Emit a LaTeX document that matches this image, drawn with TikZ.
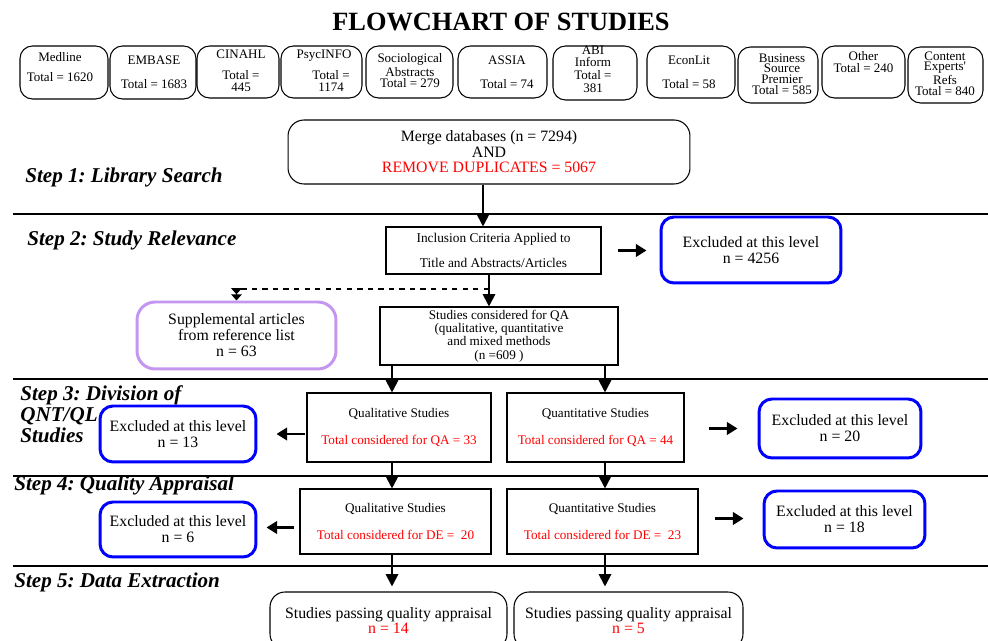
\documentclass[tikz,border=0pt]{standalone}
\usepackage{fontspec}
\setmainfont{Liberation Serif}
\usetikzlibrary{arrows.meta,calc}
\definecolor{supplilac}{RGB}{196,150,240}
\frenchspacing

\tikzset{
  dbbox/.style={draw, line width=0.6pt, rounded corners=0.25cm, inner sep=0},
  dbtext/.style={font=\fontsize{7.4}{#1}\selectfont, align=center, inner sep=0},
  plainbox/.style={draw, line width=0.6pt, inner sep=0, align=center, font=\fontsize{7.5}{7.6}\selectfont},
  stagebox/.style={plainbox, font=\fontsize{7.5}{15.3}\selectfont},
  roundbox/.style={draw, line width=0.6pt, rounded corners=0.3cm, inner sep=0, align=center, font=\fontsize{9}{8.8}\selectfont},
  exclbox/.style={draw=blue, line width=1.7pt, rounded corners=0.26cm, fill=white, inner sep=0, align=center, font=\fontsize{9}{9.1}\selectfont},
  suppbox/.style={draw=supplilac, line width=1.7pt, rounded corners=0.36cm, inner sep=0, align=center, font=\fontsize{9}{9.1}\selectfont},
  steplabel/.style={font=\fontsize{12}{12}\selectfont\bfseries\itshape, anchor=west, align=left, inner sep=0},
  sepline/.style={line width=1.1pt},
  flow/.style={-{Triangle[length=7pt,width=7pt]}, line width=1.1pt},
  sidearrow/.style={-{Triangle[length=6pt,width=7pt]}, line width=1.7pt},
}

\begin{document}
\begin{tikzpicture}[x=0.02cm, y=-0.02cm]
  \useasboundingbox (0,0) rectangle (988,641);

  \node[font=\fontsize{15}{15}\selectfont\bfseries] (title) at (501,22) {FLOWCHART OF STUDIES};

  % databases
  \node[dbbox, minimum width=1.76cm, minimum height=1.06cm] (medline) at (64,72.5) {};
  \node[dbtext=11.3pt] (medline-t) at (60,67) {Medline\\Total = 1620};
  \node[dbbox, minimum width=1.72cm, minimum height=1.06cm] (embase) at (153,72.5) {};
  \node[dbtext=13.6pt] (embase-t) at (154,72) {EMBASE\\Total = 1683};
  \node[dbbox, minimum width=1.64cm, minimum height=1.04cm] (cinahl) at (238,72) {};
  \node[dbtext=6.8pt] (cinahl-t) at (241,70.5) {CINAHL\\[5pt]Total =\\445};
  \node[dbbox, minimum width=1.62cm, minimum height=1.04cm] (psycinfo) at (321.5,72) {};
  \node[dbtext=6.8pt] (psycinfo-t) at (324,70.5) {PsycINFO\\[5pt]\hspace*{8pt}Total =\\\hspace*{8pt}1174};
  \node[dbbox, minimum width=1.74cm, minimum height=1.04cm] (socio) at (409.5,72) {};
  \node[dbtext=6pt] (socio-t) at (410,70.5) {Sociological\\Abstracts\\Total = 279};
  \node[dbbox, minimum width=1.78cm, minimum height=1.04cm] (assia) at (502.5,72) {};
  \node[dbtext=13.6pt] (assia-t) at (507,72) {ASSIA\\Total = 74};
  \node[dbbox, minimum width=1.68cm, minimum height=1.08cm] (abi) at (595,73) {};
  \node[dbtext=7.2pt] (abi-t) at (593,69) {ABI\\Inform\\Total =\\381};
  \node[dbbox, minimum width=1.76cm, minimum height=1.04cm] (econlit) at (691,72) {};
  \node[dbtext=13.6pt] (econlit-t) at (689,72) {EconLit\\Total = 58};
  \node[dbbox, minimum width=1.60cm, minimum height=1.12cm] (business) at (778,75) {};
  \node[dbtext=6.1pt] (business-t) at (782,74) {Business\\Source\\Premier\\Total = 585};
  \node[dbbox, minimum width=1.66cm, minimum height=1.04cm] (other) at (863.5,72) {};
  \node[dbtext=6.8pt] (other-t) at (863.5,62) {Other\\Total = 240};
  \node[dbbox, minimum width=1.50cm, minimum height=1.12cm] (content) at (945.5,75) {};
  \node[dbtext=6.2pt] (content-t) at (945,73.5) {Content\\Experts\textquotesingle\\Refs\\Total = 840};

  % step labels
  \node[steplabel] (step1) at (25,177) {Step 1: Library Search};
  \node[steplabel] (step2) at (27,240) {Step 2: Study Relevance};
  \node[steplabel] (step3) at (20,414) {Step 3: Division of\\QNT/QL\\Studies};
  \node[steplabel] (step4) at (14,485) {Step 4: Quality Appraisal};
  \node[steplabel] (step5) at (14,582) {Step 5: Data Extraction};

  \draw[sepline] (13,214) -- (988,214);
  \draw[sepline] (13,379) -- (988,379);
  \draw[sepline] (13,476) -- (988,476);
  \draw[sepline] (13,566) -- (988,566);

  \coordinate (colM) at (483,0);
  \coordinate (colQ) at (489,0);
  \coordinate (colL) at (392,0);
  \coordinate (colR) at (605,0);

  % step 1 and 2
  \node[roundbox, minimum width=8.04cm, minimum height=1.28cm, rounded corners=0.32cm] (merge) at (489,152)
    {Merge databases (n = 7294)\\AND\\\textcolor{red}{REMOVE DUPLICATES = 5067}};
  \node[plainbox, minimum width=4.30cm, minimum height=0.94cm, font=\fontsize{7.6}{14.2}\selectfont] (incl) at (493.5,250.5)
    {Inclusion Criteria Applied to\\Title and Abstracts/Articles};
  \node[exclbox, minimum width=3.60cm, minimum height=1.32cm] (excl1) at (751,250) {Excluded at this level\\n = 4256};
  \node[suppbox, minimum width=3.98cm, minimum height=1.34cm] (supp) at (236.5,335.5)
    {Supplemental articles\\from reference list\\n = 63};
  \node[plainbox, minimum width=4.76cm, minimum height=1.16cm] (qa) at (499,336)
    {Studies considered for QA\\(qualitative, quantitative\\and mixed methods\\(n =609 )};
  \coordinate (branch) at (489,289);

  \draw[flow] (merge.south -| colM) -- (incl.north -| colM);
  \draw[sidearrow] ($(incl.east)+(16,0)$) -- ($(excl1.west |- incl.east)+(-13,0)$);
  \draw[flow] (incl.south -| colQ) -- (qa.north -| colQ);
  \draw[dashed, line width=0.6pt, -{Triangle[length=3.5pt,width=6pt]Triangle[length=3.5pt,width=6pt]}] (branch) -| (supp.north);

  % step 3
  \node[stagebox, minimum width=3.68cm, minimum height=1.38cm] (qual1) at (399,427.5)
    {Qualitative Studies\\\textcolor{red}{Total considered for QA = 33}};
  \node[stagebox, minimum width=3.54cm, minimum height=1.38cm] (quan1) at (595.5,427.5)
    {Quantitative Studies\\\textcolor{red}{Total considered for QA = 44}};
  \node[exclbox, minimum width=3.12cm, minimum height=1.12cm] (excl2) at (178,434) {Excluded at this level\\n = 13};
  \node[exclbox, minimum width=3.24cm, minimum height=1.18cm] (excl3) at (840,428.5) {Excluded at this level\\n = 20};

  \draw[flow] (qa.south -| colL) -- (qual1.north -| colL);
  \draw[flow] (qa.south -| colR) -- (quan1.north -| colR);
  \draw[sidearrow] ($(qual1.west |- excl2.east)+(-1,0)$) -- ($(excl2.east)+(19,0)$);
  \draw[sidearrow] ($(quan1.east |- excl3.west)+(24,0)$) -- ($(excl3.west)+(-20,0)$);

  % step 4
  \node[stagebox, minimum width=3.82cm, minimum height=1.30cm] (qual2) at (395.5,521.5)
    {Qualitative Studies\\\textcolor{red}{Total considered for DE =~ 20}};
  \node[stagebox, minimum width=3.82cm, minimum height=1.30cm] (quan2) at (602.5,521.5)
    {Quantitative Studies\\\textcolor{red}{Total considered for DE =~ 23}};
  \node[exclbox, minimum width=3.12cm, minimum height=1.10cm] (excl4) at (178,529.5) {Excluded at this level\\n = 6};
  \node[exclbox, minimum width=3.22cm, minimum height=1.14cm] (excl5) at (844.5,519.5) {Excluded at this level\\n = 18};

  \draw[flow] (qual1.south -| colL) -- (qual2.north -| colL);
  \draw[flow] (quan1.south -| colR) -- (quan2.north -| colR);
  \draw[sidearrow] ($(qual2.west |- excl4.east)+(-5,-2)$) -- ($(excl4.east)+(9,-2)$);
  \draw[sidearrow] ($(quan2.east |- excl5.west)+(16,-1)$) -- ($(excl5.west)+(-19,-1)$);

  % step 5
  \node[roundbox, minimum width=4.74cm, minimum height=1.14cm, font=\fontsize{9}{8.5}\selectfont] (pass1) at (388.5,620.5)
    {Studies passing quality appraisal\\\textcolor{red}{n = 14}};
  \node[roundbox, minimum width=4.58cm, minimum height=1.14cm, font=\fontsize{9}{8.5}\selectfont] (pass2) at (628.5,620.5)
    {Studies passing quality appraisal\\\textcolor{red}{n = 5}};

  \draw[flow] (qual2.south -| colL) -- ($(pass1.north -| colL)+(0,-5)$);
  \draw[flow] (quan2.south -| colR) -- ($(pass2.north -| colR)+(0,-5)$);
\end{tikzpicture}
\end{document}
